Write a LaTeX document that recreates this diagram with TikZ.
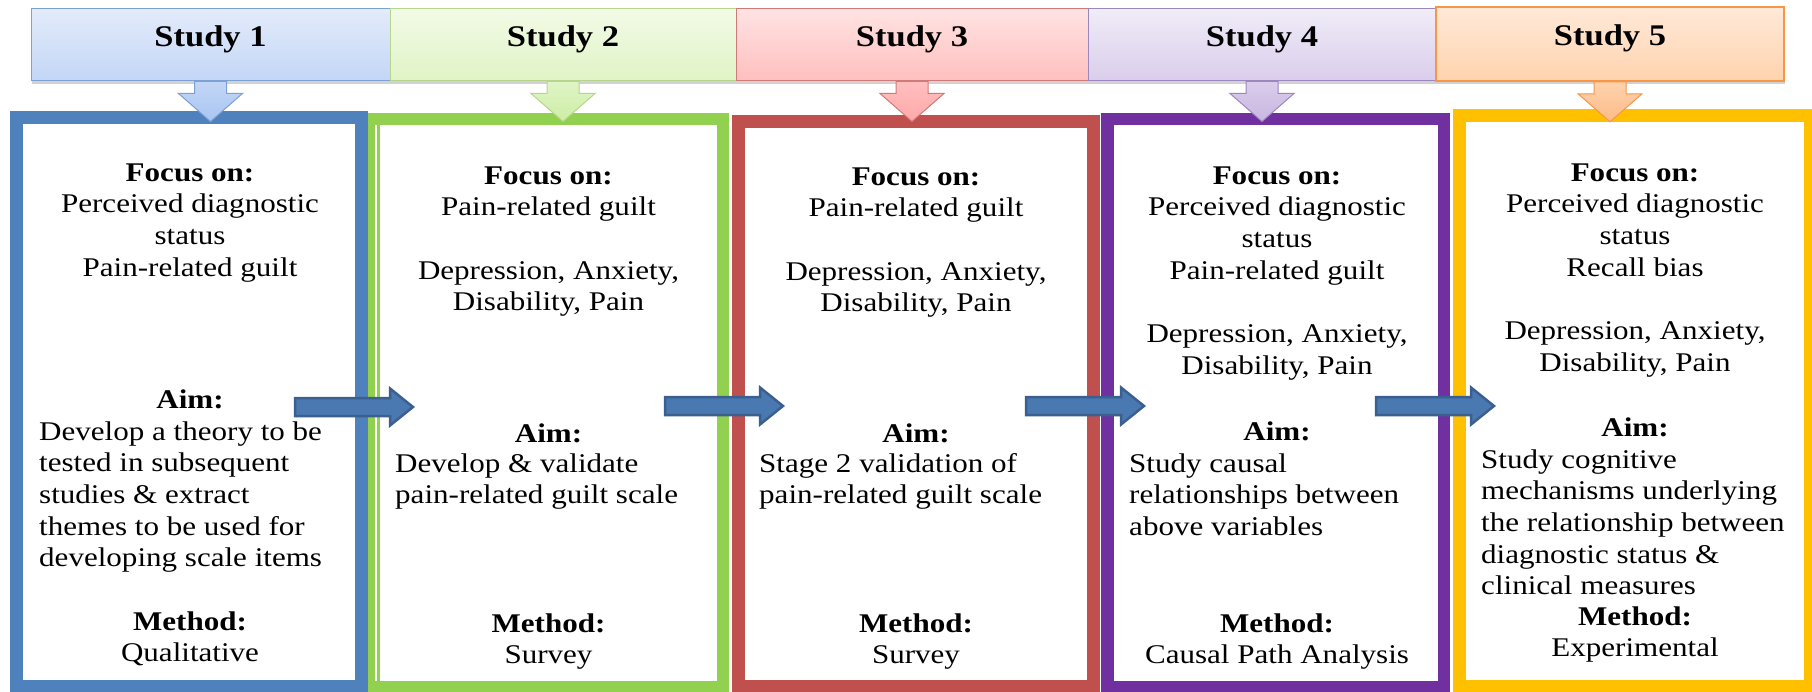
\documentclass[tikz,border=0pt]{standalone}
\usepackage{fontspec}
\newfontfamily\wideserif{Liberation Serif}[FakeStretch=1.15]
\usetikzlibrary{calc,shadows}
\newcommand\stBody{\wideserif\fontsize{27}{31.7}\selectfont}
\newcommand\stHead{\wideserif\bfseries\fontsize{30}{34}\selectfont}

% frame colours
\definecolor{bBlue}{HTML}{4F81BD}
\definecolor{bGreen}{HTML}{92D050}
\definecolor{bRed}{HTML}{C0504D}
\definecolor{bPurple}{HTML}{7030A0}
\definecolor{bYellow}{HTML}{FFC000}
% heading bar colours
\definecolor{hAtop}{HTML}{E3EBFB}\definecolor{hAbot}{HTML}{C3D6F6}\definecolor{hAline}{HTML}{7DA0D5}
\definecolor{hBtop}{HTML}{F2FAE6}\definecolor{hBbot}{HTML}{E0F4C6}\definecolor{hBline}{HTML}{B5D68C}
\definecolor{hCtop}{HTML}{FFE3E3}\definecolor{hCbot}{HTML}{FFBFBF}\definecolor{hCline}{HTML}{CF7A78}
\definecolor{hDtop}{HTML}{F0ECF8}\definecolor{hDbot}{HTML}{DACDEB}\definecolor{hDline}{HTML}{9C86BF}
\definecolor{hEtop}{HTML}{FFE9D8}\definecolor{hEbot}{HTML}{FFD3AE}\definecolor{hEline}{HTML}{F79646}
% down arrow shading ends
\definecolor{dAbot}{HTML}{A9C5F2}
\definecolor{dBbot}{HTML}{CDEDA5}
\definecolor{dCbot}{HTML}{FFA8A8}
\definecolor{dDbot}{HTML}{C8B6E0}
\definecolor{dEbot}{HTML}{FCBA87}
% flow arrows
\definecolor{arrFill}{HTML}{4A78B0}
\definecolor{arrLine}{HTML}{3B608F}

\begin{document}
\begin{tikzpicture}[x=1pt,y=-1pt,
  frame/.style={rectangle, outer sep=0pt, inner sep=0pt},
  hdr/.style={rectangle, font=\stHead, text height=14pt, text depth=10pt,
    line width=1pt, minimum height=72pt, inner sep=0pt,
    drop shadow={opacity=0.35, shadow xshift=1pt, shadow yshift=-3pt}},
  ctext/.style={font=\stBody, align=center, inner sep=0pt, anchor=north},
  ltext/.style={font=\stBody, align=left, inner sep=0pt, anchor=north west},
  flow/.style={fill=arrFill, draw=arrLine, line width=2.5pt, line join=miter},
  dnarrow/.pic={\path[pic actions] (-16,0) -- (-16,12) -- (-32,12) -- (0,40)
     -- (32,12) -- (16,12) -- (16,0) -- cycle;},
  rtarrow/.pic={\path[pic actions] (0,-9) -- (95,-9) -- (95,-18.5) -- (118,0)
     -- (95,18.5) -- (95,9) -- (0,9) -- cycle;}
]
\useasboundingbox (0,0) rectangle (1812,692);
\fill[white] (0,0) rectangle (1812,692);

% study frames
\node[frame, draw=bBlue,   line width=13pt,   minimum width=345pt,   minimum height=569pt]   (b1) at (189,402) {};
\node[frame, draw=bGreen,  line width=12pt,   minimum width=349pt,   minimum height=568pt]   (b2) at (548.5,403) {};
\draw[white, line width=2pt] ($(b2.north west)+(2,6)$) -- ($(b2.south west)+(2,-6)$);
\node[frame, draw=bRed,    line width=13pt,   minimum width=355pt,   minimum height=565pt]   (b3) at (916,404) {};
\node[frame, draw=bPurple, line width=12.5pt, minimum width=336.5pt, minimum height=567.5pt] (b4) at (1275.5,403) {};
\node[frame, draw=bYellow, line width=13pt,   minimum width=351pt,   minimum height=571pt]   (b5) at (1635,401) {};

% study 1
\node[ctext] (s1f) at (190,158.8) {\strut\textbf{Focus on:}\\Perceived diagnostic\\status\\Pain-related guilt};
\node[ctext] (s1a) at (190,385.8) {\strut\textbf{Aim:}};
\node[ltext] (s1d) at (39,417.8) {\strut Develop a theory to be\\tested in subsequent\\studies \& extract\\themes to be used for\\developing scale items};
\node[ctext] (s1m) at (190,607.8) {\strut\textbf{Method:}\\Qualitative};

% study 2
\node[ctext] (s2f) at (548.5,161.8) {\strut\textbf{Focus on:}\\Pain-related guilt\\[31.7pt]Depression, Anxiety,\\Disability, Pain};
\node[ctext] (s2a) at (548.5,419.8) {\strut\textbf{Aim:}};
\node[ltext] (s2d) at (395,449.8) {\strut Develop \& validate\\pain-related guilt scale};
\node[ctext] (s2m) at (548.5,609.8) {\strut\textbf{Method:}\\Survey};

% study 3
\node[ctext] (s3f) at (916,162.8) {\strut\textbf{Focus on:}\\Pain-related guilt\\[31.7pt]Depression, Anxiety,\\Disability, Pain};
\node[ctext] (s3a) at (916,419.8) {\strut\textbf{Aim:}};
\node[ltext] (s3d) at (759,449.8) {\strut Stage 2 validation of\\pain-related guilt scale};
\node[ctext] (s3m) at (916,609.8) {\strut\textbf{Method:}\\Survey};

% study 4
\node[ctext] (s4f) at (1277,161.8) {\strut\textbf{Focus on:}\\Perceived diagnostic\\status\\Pain-related guilt\\[31.7pt]Depression, Anxiety,\\Disability, Pain};
\node[ctext] (s4a) at (1277,417.8) {\strut\textbf{Aim:}};
\node[ltext] (s4d) at (1129,449.8) {\strut Study causal\\relationships between\\above variables};
\node[ctext] (s4m) at (1277,609.8) {\strut\textbf{Method:}\\Causal Path Analysis};

% study 5
\node[ctext] (s5f) at (1635,158.8) {\strut\textbf{Focus on:}\\Perceived diagnostic\\status\\Recall bias\\[31.7pt]Depression, Anxiety,\\Disability, Pain};
\node[ctext] (s5a) at (1635,413.8) {\strut\textbf{Aim:}};
\node[ltext] (s5d) at (1481,445.8) {\strut Study cognitive\\mechanisms underlying\\the relationship between\\diagnostic status \&\\clinical measures};
\node[ctext] (s5m) at (1635,602.8) {\strut\textbf{Method:}\\Experimental};

% heading bars
\node[hdr, top color=hAtop, bottom color=hAbot, draw=hAline, minimum width=359pt] (h1) at (210.5,45) {Study 1};
\node[hdr, top color=hBtop, bottom color=hBbot, draw=hBline, minimum width=346pt] (h2) at (563,45) {Study 2};
\node[hdr, top color=hCtop, bottom color=hCbot, draw=hCline, minimum width=352pt] (h3) at (912,45) {Study 3};
\node[hdr, top color=hDtop, bottom color=hDbot, draw=hDline, minimum width=348pt] (h4) at (1262,45) {Study 4};
\node[hdr, top color=hEtop, bottom color=hEbot, draw=hEline, line width=1.6pt, minimum width=348pt, minimum height=74pt] (h5) at (1610,44) {Study 5};

% arrows from heading bars into the frames
\pic[top color=hAbot, bottom color=dAbot, draw=hAline, line width=1pt] at (h1.south) {dnarrow};
\pic[top color=hBbot, bottom color=dBbot, draw=hBline, line width=1pt] at (h2.south) {dnarrow};
\pic[top color=hCbot, bottom color=dCbot, draw=hCline, line width=1pt] at (h3.south) {dnarrow};
\pic[top color=hDbot, bottom color=dDbot, draw=hDline, line width=1pt] at (h4.south) {dnarrow};
\pic[top color=hEbot, bottom color=dEbot, draw=hEline, line width=1pt] at (h5.south) {dnarrow};

% flow arrows between studies
\coordinate (a1) at (295,407);
\coordinate (a2) at (665,406);
\coordinate (a3) at (1026,406);
\coordinate (a4) at (1376,406);
\pic[flow] at (a1) {rtarrow};
\pic[flow] at (a2) {rtarrow};
\pic[flow] at (a3) {rtarrow};
\pic[flow] at (a4) {rtarrow};
\end{tikzpicture}
\end{document}
